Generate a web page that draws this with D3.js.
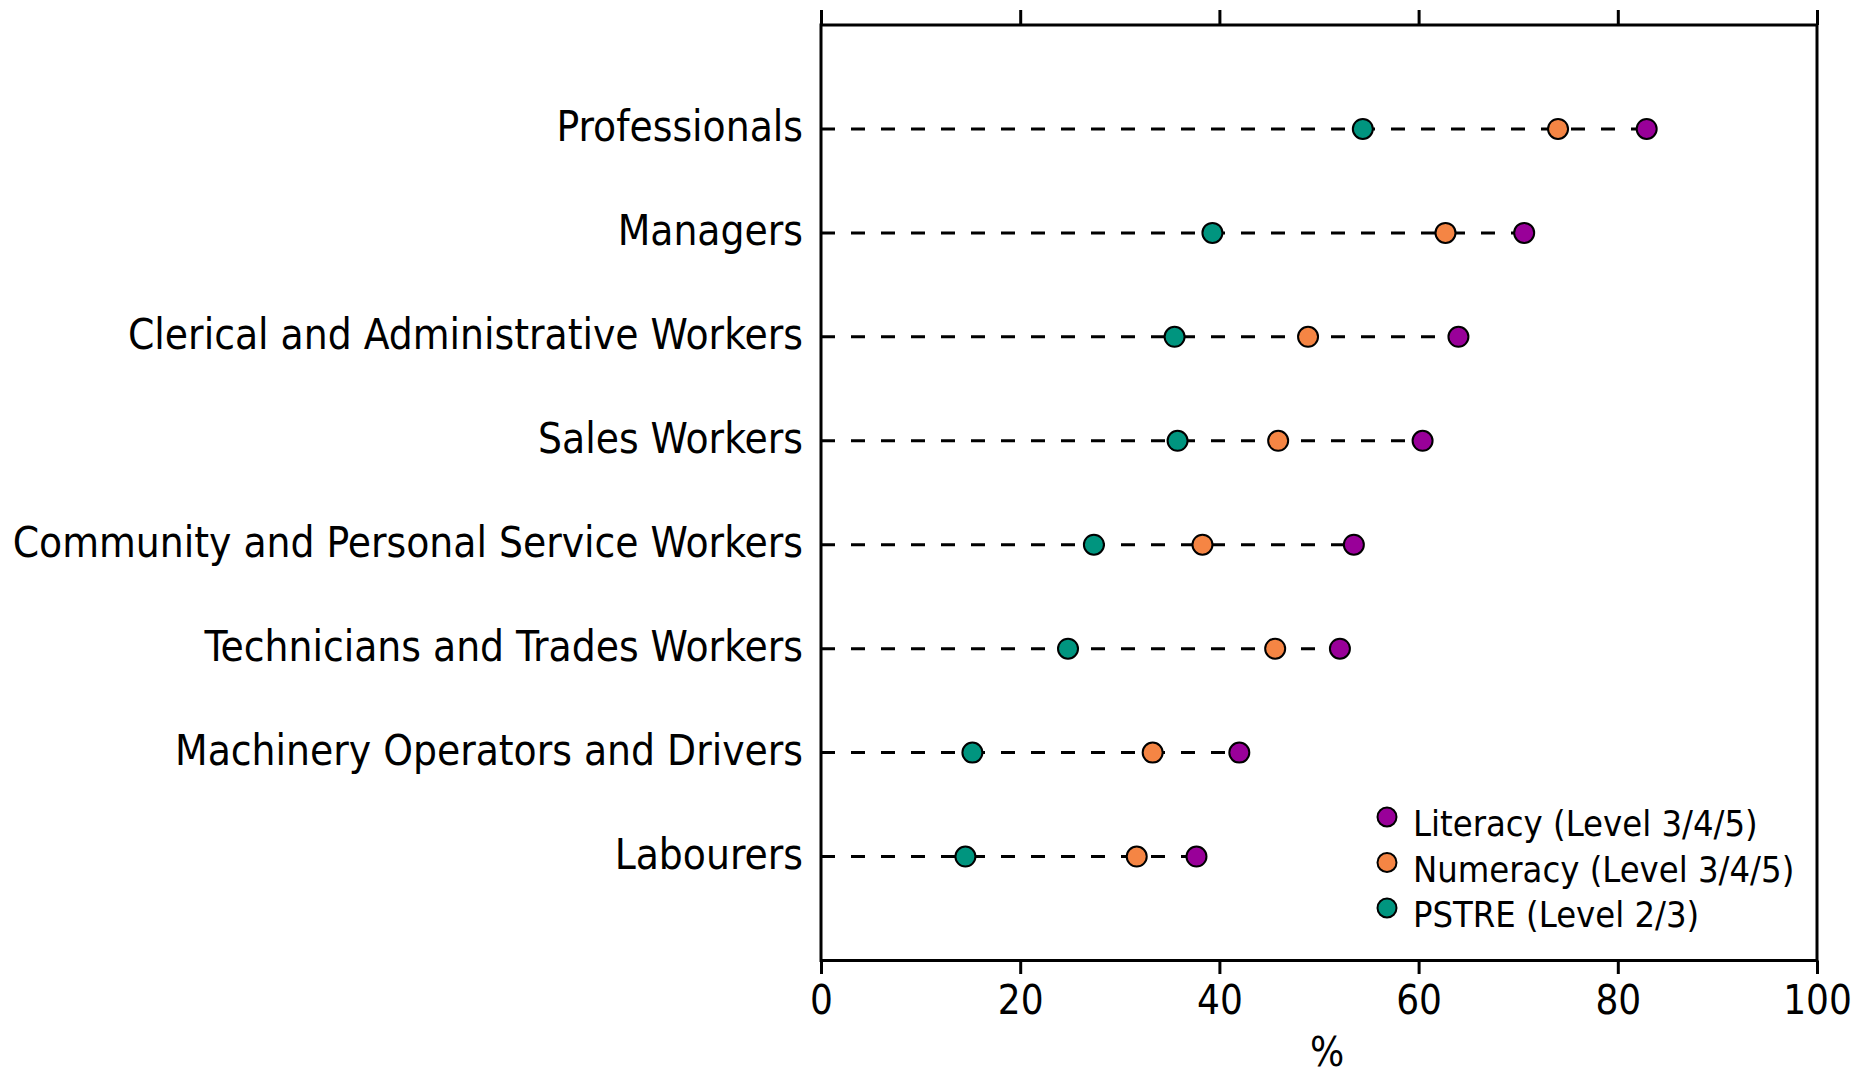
<!DOCTYPE html>
<html lang="en">
<head>
    <meta charset="UTF-8">
    <title>Skill levels by occupation</title>
    <script src="https://d3js.org/d3.v7.min.js"></script>
    <style>
        body {
            margin: 0;
            background: #fff;
        }

        svg text {
            font-family: 'DejaVu Sans Condensed', 'DejaVu Sans', sans-serif;
            font-stretch: condensed;
            fill: #000;
        }

        .frame {
            fill: none;
            stroke: #000;
            stroke-width: 3px;
        }

        .tick line {
            stroke: #000;
            stroke-width: 3px;
        }

        .guide {
            stroke: #000;
            stroke-width: 3px;
            stroke-dasharray: 14 16;
        }

        .dot {
            stroke: #000;
            stroke-width: 2px;
        }
    </style>
</head>
<body>
    <div id="chart"></div>

    <script>
        // Occupations, top to bottom
        const categories = [
            "Professionals",
            "Managers",
            "Clerical and Administrative Workers",
            "Sales Workers",
            "Community and Personal Service Workers",
            "Technicians and Trades Workers",
            "Machinery Operators and Drivers",
            "Labourers"
        ];

        // % of people at each skill level
        const literacy = [82.9, 70.6, 64.0, 60.4, 53.5, 52.1, 42.0, 37.7];
        const numeracy = [74.0, 62.7, 48.9, 45.9, 38.3, 45.6, 33.3, 31.7];
        const pstre    = [54.4, 39.3, 35.5, 35.8, 27.4, 24.8, 15.2, 14.5];

        const seriesNames = ["Literacy (Level 3/4/5)", "Numeracy (Level 3/4/5)", "PSTRE (Level 2/3)"];
        const seriesColors = ["#990099", "#f58544", "#00957f"];
        const xTicks = [0, 20, 40, 60, 80, 100];

        const width = 1862, height = 1074;
        const margin = { top: 25, right: 45, bottom: 113.5, left: 821 };

        const svg = d3.select("#chart").append("svg")
            .attr("width", width)
            .attr("height", height);

        const x = d3.scaleLinear()
            .domain([0, 100])
            .range([margin.left, width - margin.right]);

        const y = d3.scalePoint()
            .domain(categories)
            .range([margin.top, height - margin.bottom])
            .padding(1);

        const rows = categories.map((c, i) => ({
            name: c,
            values: [literacy[i], numeracy[i], pstre[i]]
        }));

        // Top axis: ticks only
        svg.append("g")
            .attr("transform", `translate(0,${margin.top})`)
            .call(d3.axisTop(x).tickValues(xTicks).tickSize(15).tickSizeOuter(0).tickFormat(""))
            .call(g => g.select(".domain").remove());

        // Bottom axis
        const bottom = svg.append("g")
            .attr("transform", `translate(0,${height - margin.bottom})`)
            .call(d3.axisBottom(x).tickValues(xTicks).tickSize(13.5).tickSizeOuter(0))
            .call(g => g.select(".domain").remove());

        bottom.selectAll("text")
            .attr("y", 53.5)
            .attr("dy", null)
            .attr("fill", "#000")
            .style("font-size", "40px");

        // Plot frame
        svg.append("rect")
            .attr("class", "frame")
            .attr("x", x(0))
            .attr("y", margin.top)
            .attr("width", x(100) - x(0))
            .attr("height", height - margin.bottom - margin.top);

        // Category labels
        svg.selectAll(".cat")
            .data(categories)
            .enter().append("text")
            .attr("class", "cat")
            .attr("x", x(0) - 18)
            .attr("y", d => y(d) + 12)
            .style("text-anchor", "end")
            .style("font-size", "42px")
            .text(d => d);

        // Dashed guide lines from the axis to the largest value
        svg.selectAll(".guide")
            .data(rows)
            .enter().append("line")
            .attr("class", "guide")
            .attr("x1", x(0))
            .attr("x2", d => x(d3.max(d.values)))
            .attr("y1", d => y(d.name))
            .attr("y2", d => y(d.name));

        // Dots, PSTRE first so literacy sits on top
        for (let s = seriesNames.length - 1; s >= 0; s--) {
            svg.selectAll(".dot-" + s)
                .data(rows)
                .enter().append("circle")
                .attr("class", "dot dot-" + s)
                .attr("cx", d => x(d.values[s]))
                .attr("cy", d => y(d.name))
                .attr("r", 10)
                .attr("fill", seriesColors[s]);
        }

        // Legend
        const legend = svg.append("g")
            .attr("transform", "translate(1387,817)");

        const item = legend.selectAll(".item")
            .data(seriesNames)
            .enter().append("g")
            .attr("class", "item")
            .attr("transform", (d, i) => `translate(0,${i * 45.5})`);

        item.append("circle")
            .attr("class", "dot")
            .attr("r", 9.5)
            .attr("fill", (d, i) => seriesColors[i]);

        item.append("text")
            .attr("x", 26)
            .attr("y", 19)
            .style("font-size", "36px")
            .text(d => d);

        // Axis title
        svg.append("text")
            .attr("x", 1327)
            .attr("y", 1066)
            .style("text-anchor", "middle")
            .style("font-size", "40px")
            .text("%");
    </script>
</body>
</html>
